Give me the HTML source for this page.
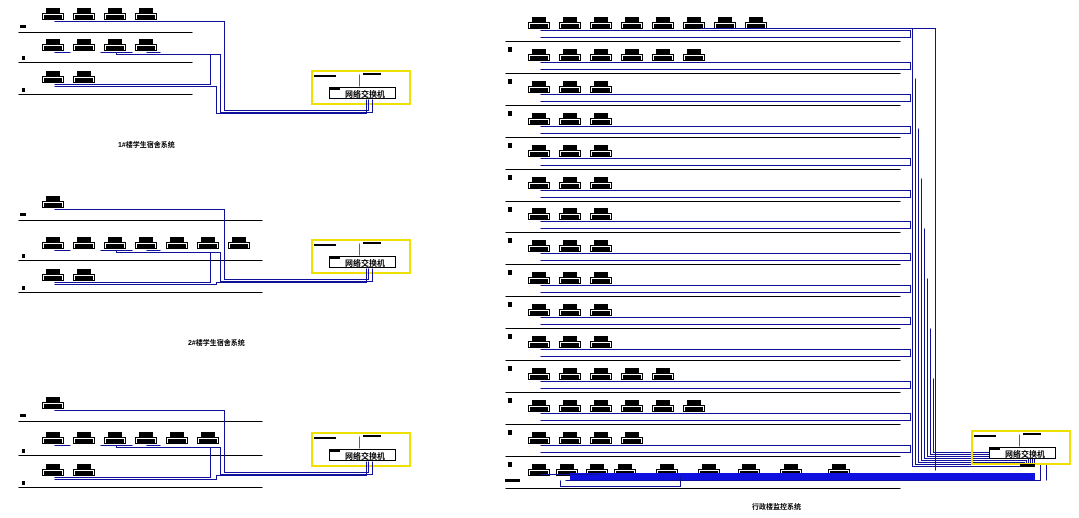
<!DOCTYPE html>
<html><head><meta charset="utf-8"><style>
html,body{margin:0;padding:0;background:#fff;width:1079px;height:518px;overflow:hidden}
svg{display:block}
text{font-family:"Liberation Sans","Noto Sans CJK SC",sans-serif;font-weight:bold;fill:#000}
</style></head><body>
<svg id="s" width="1079" height="518" viewBox="0 0 1079 518" xmlns="http://www.w3.org/2000/svg" shape-rendering="crispEdges">
<text x="118" y="147" font-size="7">1#楼学生宿舍系统</text>
<text x="188" y="345" font-size="7">2#楼学生宿舍系统</text>
<text x="752" y="509" font-size="7">行政楼监控系统</text>
</svg>
<script>
var s=document.getElementById('s'),NS='http://www.w3.org/2000/svg';
function el(t,a){var e=document.createElementNS(NS,t);for(var k in a)e.setAttribute(k,a[k]);s.appendChild(e);return e;}
function line(x1,y1,x2,y2,c,w){el('line',{x1:x1+0.5,y1:y1+0.5,x2:x2+0.5,y2:y2+0.5,stroke:c||'#000','stroke-width':w||1});}
function path(d,c,w){el('path',{d:d,fill:'none',stroke:c||'#10109a','stroke-width':w||1,transform:'translate(0.5,0.5)'});}
function rect(x,y,w,h,f,st,sw){el('rect',{x:x,y:y,width:w,height:h,fill:f||'none',stroke:st||'none','stroke-width':sw||1});}
function txt(x,y,t,fs){var e=el('text',{x:x,y:y,'font-size':fs});e.textContent=t;}
function dev(x,y){
  rect(x+0.5,y-6.5,21,6,'#fff','#000');rect(x+2,y-5,18,4,'#000');rect(x+4,y-12,14,6,'#000');}
function sw(x,y){
  rect(x,y,98,33,'none','#f0e000',1.6);
  rect(x+2,y+4,22,2,'#000');rect(x+51,y+2,18,2,'#000');
  line(x+47,y+3,x+47,y+15,'#c020c0');
  rect(x+17.5,y+16.5,66,11,'#fff','#000');rect(x+18,y+17,10,2,'#000');
  txt(x+33,y+26,'网络交换机',8);}
function panel(L,by,top,r1,r2,lx){
  for(var i=0;i<3;i++){line(18,L[i],lx,L[i]);}
  rect(20,L[0]-7,6,3,'#000');rect(22,L[1]-6,3,4,'#000');rect(22,L[2]-6,3,4,'#000');
  for(var i=0;i<top;i++)dev(42+31*i,L[0]-12);
  for(var i=0;i<r1;i++)dev(42+31*i,L[1]-11);
  for(var i=0;i<r2;i++)dev(42+31*i,L[2]-11);
  sw(312,by);
  var t=L[0]-11,m=L[1]-10,n=L[2]-10,bb=by+39;
  path('M54 '+t+' H224 V'+bb+' H368 V'+(by+28));
  path('M116 '+m+' V'+(m+2)+' H220 V'+(bb+2)+' H372 V'+(by+28));
  path('M54 '+n+' H210 V'+(m+2)+' H160');
  path('M54 '+(n+2)+' H216 V'+(bb+3)+' H366 V'+(by+28));
  path('M54 '+m+' H70 M100 '+m+' H132 M146 '+m+' H160');
}
panel([32,62,94],71,4,4,2,192);
panel([220,260,292],240,1,7,2,262);
panel([421,455,487],433,1,6,2,262);
var cnt=[8,6,3,3,3,3,3,3,3,3,3,5,6,4,9];
for(var k=0;k<15;k++){
  var ly=Math.round(41+31.9*k);
  line(505,ly,900,ly);
  if(k<14)rect(508,ly+6,4,5,'#000');
  var n=cnt[k];
  for(var i=0;i<n;i++)dev(528+(k==14?[0,28,58,86,128,170,210,252,300][i]:31*i),ly-12);
  if(k<14){
    var ry=ly-11;
    path('M540 '+ry+' H910 V'+(ry+7)+' H540');
  }
}
for(var j=0;j<8;j++){
  var x=912+j*3;
  path('M'+x+' '+(28+j*50)+' V'+(466-j*2)+' H'+(1020+j*2)+' V463');
}
path('M700 28 H935 V470');
rect(570,473,465,7,'#1010e0');
path('M565 480 H1040 V463 M1046 463 V480');
path('M540 474 H600 M560 480 V486 H680 V476');
sw(972,431);
rect(1020,464,15,3,'#000');
rect(505,479,15,3,'#000');
</script>
</body></html>
